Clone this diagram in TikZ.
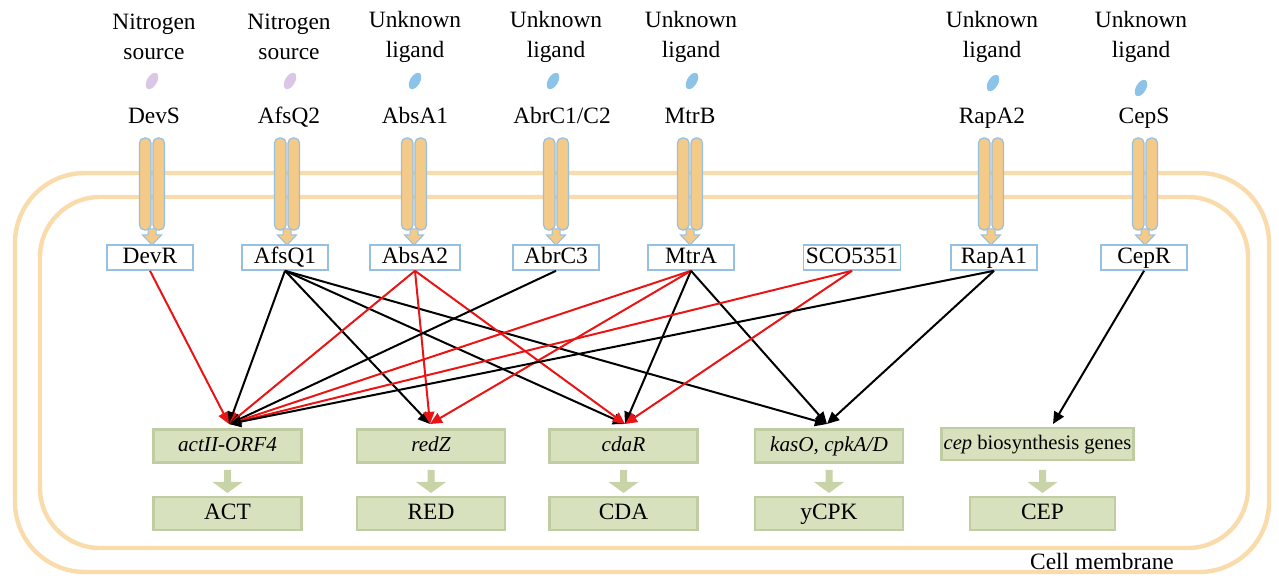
\documentclass[tikz,border=0pt]{standalone}
\usepackage{fontspec}
\setmainfont{Liberation Serif}
\usetikzlibrary{arrows.meta}
\definecolor{memb}{RGB}{250,220,172}
\definecolor{recfill}{RGB}{243,202,136}
\definecolor{recline}{RGB}{150,192,225}
\definecolor{gfill}{RGB}{216,225,190}
\definecolor{gdark}{RGB}{192,204,162}
\definecolor{garrow}{RGB}{200,212,168}
\definecolor{ligN}{RGB}{218,199,232}
\definecolor{ligU}{RGB}{140,195,232}
\definecolor{ared}{RGB}{235,20,20}
\tikzset{
  lab/.style={align=center, font=\fontsize{11.7}{15}\selectfont, inner sep=0pt},
  one/.style={font=\fontsize{11.7}{13}\selectfont, inner sep=0pt, text height=8.3pt, text depth=2.6pt},
  rr/.style={one, draw=recline, line width=0.8pt, fill=white, minimum width=43pt, minimum height=12.5pt},
  gene/.style={draw=gdark, line width=1.2pt, fill=gfill, minimum width=74pt, minimum height=16.5pt, inner sep=0pt, text height=7.5pt, text depth=2.3pt, font=\fontsize{10.6}{12}\selectfont\itshape},
  prod/.style={one, draw=gdark, line width=1.2pt, fill=gfill, minimum width=74pt, minimum height=16.5pt},
  blk/.style={black, line width=1pt, -{Triangle[length=6pt,width=5.5pt]}},
  red/.style={ared, line width=1pt, -{Triangle[length=6pt,width=5.5pt]}},
  pill/.style={fill=recfill, draw=recline, line width=0.6pt, rounded corners=2.5pt},
}
\newcommand{\receptor}[1]{%
  \draw[pill] (#1-12.5,138) rectangle (#1-1,230);
  \draw[pill] (#1+1,138) rectangle (#1+12.5,230);
  \draw[fill=recfill, draw=recline, line width=0.5pt] (#1-4,229) -- (#1-4,235) -- (#1-9.5,235) -- (#1,245) -- (#1+9.5,235) -- (#1+4,235) -- (#1+4,229) -- cycle;
}
\newcommand{\ligand}[3]{%
  \fill[#3, rotate around={-30:(#1,#2)}] (#1,#2) ellipse (5 and 9);
}
\newcommand{\garr}[1]{%
  \fill[garrow] (#1-3.5,470) -- (#1-3.5,482) -- (#1-15,482) -- (#1,493) -- (#1+15,482) -- (#1+3.5,482) -- (#1+3.5,470) -- cycle;
}
\begin{document}
\begin{tikzpicture}[x=0.5pt,y=-0.5pt]
\useasboundingbox (0,0) rectangle (1279,576);
% membranes
\draw[memb, line width=2.2pt, rounded corners=35pt] (15,173) rectangle (1269,572);
\draw[memb, line width=2.2pt, rounded corners=30pt] (40,197) rectangle (1248,548);
% top labels
\node[lab] (t1) at (154,37) {Nitrogen\\source};
\node[lab] (t2) at (289,37) {Nitrogen\\source};
\node[lab] (t3) at (415,37) {Unknown\\ligand};
\node[lab] (t4) at (556,37) {Unknown\\ligand};
\node[lab] (t5) at (691,37) {Unknown\\ligand};
\node[lab] (t6) at (992,37) {Unknown\\ligand};
\node[lab] (t7) at (1141,37) {Unknown\\ligand};
% ligands
\ligand{152}{81}{ligN}
\ligand{290}{81}{ligN}
\ligand{415}{81}{ligU}
\ligand{553}{81}{ligU}
\ligand{692}{81}{ligU}
\ligand{993}{83}{ligU}
\ligand{1141}{88}{ligU}
% receptor names
\node[one] (DevS) at (154,118) {DevS};
\node[one] (AfsQ2) at (289,118) {AfsQ2};
\node[one] (AbsA1) at (415,118) {AbsA1};
\node[one] (AbrC12) at (562,118) {AbrC1/C2};
\node[one] (MtrB) at (690,118) {MtrB};
\node[one] (RapA2) at (992,118) {RapA2};
\node[one] (CepS) at (1144,118) {CepS};
% receptors
\receptor{152}
\receptor{287}
\receptor{414}
\receptor{556}
\receptor{690}
\receptor{991}
\receptor{1145}
% response regulators
\node[rr] (DevR) at (150,257.5) {DevR};
\node[rr] (AfsQ1) at (285,257.5) {AfsQ1};
\node[rr, minimum width=45pt] (AbsA2) at (415,257.5) {AbsA2};
\node[rr] (AbrC3) at (556,257.5) {AbrC3};
\node[rr] (MtrA) at (691,257.5) {MtrA};
\node[rr, minimum width=48.5pt] (SCO) at (852,257.5) {SCO5351};
\node[rr] (RapA1) at (994,257.5) {RapA1};
\node[rr] (CepR) at (1144,257.5) {CepR};
% gene boxes
\node[gene] (actII) at (227.5,446) {actII-ORF4};
\node[gene] (redZ) at (431,446) {redZ};
\node[gene] (cdaR) at (623.5,446) {cdaR};
\node[gene] (kasO) at (829,446) {kasO\upshape, \itshape cpkA/D};
\node[gene, minimum width=96pt, minimum height=16pt, font=\fontsize{10.3}{12}\selectfont\itshape] (cep) at (1037.5,444) {cep \upshape biosynthesis genes};
% product boxes
\node[prod] (ACT) at (227.5,513.5) {ACT};
\node[prod] (RED) at (431,513.5) {RED};
\node[prod] (CDA) at (623.5,513.5) {CDA};
\node[prod] (yCPK) at (829,513.5) {yCPK};
\node[prod, minimum width=72.5pt] (CEP) at (1042.5,513.5) {CEP};
% gene->product arrows
\garr{227.5}
\garr{431}
\garr{623.5}
\garr{829}
\garr{1042.5}
% target points
\coordinate (tA) at (229,424);
\coordinate (tR) at (430,424);
\coordinate (tC) at (625,424);
\coordinate (tK) at (827,424);
\coordinate (tE) at (1053,424);
% regulatory edges
\draw[red] (DevR.south) -- (tA);
\draw[blk] (AfsQ1.south) -- (tA);
\draw[blk] (AfsQ1.south) -- (tR);
\draw[blk] (AfsQ1.south) -- (tC);
\draw[blk] (AfsQ1.south) -- (tK);
\draw[red] (AbsA2.south) -- (tA);
\draw[red] (AbsA2.south) -- (tR);
\draw[red] (AbsA2.south) -- (tC);
\draw[blk] (AbrC3.south) -- (tA);
\draw[red] (MtrA.south) -- (tA);
\draw[red] (MtrA.south) -- (tR);
\draw[blk] (MtrA.south) -- (tC);
\draw[blk] (MtrA.south) -- (tK);
\draw[red] (SCO.south) -- (tA);
\draw[red] (SCO.south) -- (tC);
\draw[blk] (RapA1.south) -- (tA);
\draw[blk] (RapA1.south) -- (tK);
\draw[blk] (CepR.south) -- (tE);
% caption
\node[one] (cm) at (1102,564) {Cell membrane};
\end{tikzpicture}
\end{document}
